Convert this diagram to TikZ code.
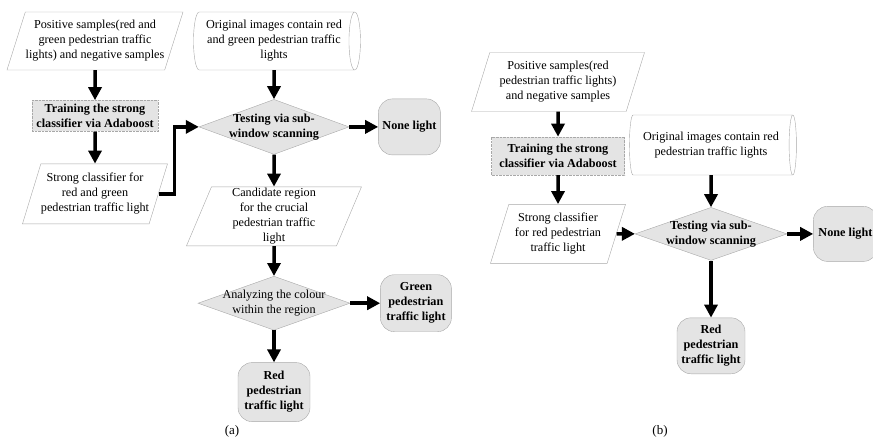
\documentclass[tikz,border=0pt]{standalone}
\usepackage{fontspec}
\setmainfont{Liberation Serif}
\usepackage{tikz}
\usetikzlibrary{
  arrows.meta, shapes.geometric, shapes.misc,
  positioning, calc
}
\usepackage{xcolor}
\definecolor{ink}    {HTML}{000000}
\definecolor{edge}   {HTML}{A8A8A8}
\definecolor{shade}  {HTML}{E4E4E4}
\definecolor{card}   {HTML}{FFFFFF}
\tikzset{
  txt/.style    = {font=\fontsize{12.2}{15}\selectfont, align=center, text=ink},
  bld/.style    = {font=\fontsize{12.2}{15}\selectfont\bfseries, align=center, text=ink},
  para/.style   = {txt, trapezium, trapezium left angle=66, trapezium right angle=114,
                   trapezium stretches body, draw=edge, fill=card,
                   inner xsep=-10pt, inner ysep=0pt},
  drum/.style   = {txt, cylinder, shape aspect=0.28, draw=edge, fill=card,
                   inner xsep=2pt, inner ysep=0pt},
  train/.style  = {bld, rectangle, draw=edge, densely dotted, fill=shade,
                   inner xsep=3pt, inner ysep=1pt},
  decide/.style = {diamond, aspect=2.7, draw=edge, fill=shade,
                   inner xsep=-16pt, inner ysep=-4pt},
  result/.style = {bld, rectangle, rounded corners=14pt, draw=edge, fill=shade,
                   inner xsep=2pt, inner ysep=1pt},
  arr/.style    = {-{Triangle[length=13pt,width=13pt]}, line width=3.5pt, ink},
  caption/.style= {font=\fontsize{13}{15}\selectfont, text=ink},
}

\begin{document}
\begin{tikzpicture}[x=1pt, y=-1pt]
  \useasboundingbox (0,0) rectangle (873,438);

  % --- (a): training column ---
  \node[para, minimum width=176pt, minimum height=58pt] (posa) at (95,41)
        {Positive samples(red and\\green pedestrian traffic\\lights) and negative samples};
  \node[train, minimum width=126pt, minimum height=31pt, below=30pt of posa] (traina)
        {Training the strong\\classifier via Adaboost};
  \node[para, minimum width=145pt, minimum height=60pt, below=32pt of traina] (stronga)
        {Strong classifier for\\red and green\\pedestrian traffic light};

  % --- (a): detection column ---
  % (cylinder: height runs along the axis, width across it)
  \node[drum, minimum height=167pt, minimum width=58pt] (imga) at (274,41)
        {Original images contain red\\and green pedestrian traffic\\lights};
  \node[decide, bld, minimum width=150pt, minimum height=55pt, below=29pt of imga] (testa)
        {Testing via sub-\\window scanning};
  \node[result, minimum width=62pt, minimum height=56pt, right=29pt of testa] (nonea)
        {None light};
  \node[para, minimum width=175pt, minimum height=59pt, below=32pt of testa] (canda)
        {Candidate region\\for the crucial\\pedestrian traffic\\light};
  \node[decide, txt, minimum width=152pt, minimum height=54pt, below=30pt of canda] (colour)
        {Analyzing the colour\\within the region};
  \node[result, minimum width=71pt, minimum height=57pt, right=30pt of colour] (greena)
        {Green\\pedestrian\\traffic light};
  \node[result, minimum width=72pt, minimum height=59pt, below=32pt of colour] (reda)
        {Red\\pedestrian\\traffic light};

  % --- (b): training column ---
  \node[para, minimum width=173pt, minimum height=59pt] (posb) at (558,82)
        {Positive samples(red\\pedestrian traffic lights)\\and negative samples};
  \node[train, minimum width=133pt, minimum height=38pt, below=25pt of posb] (trainb)
        {Training the strong\\classifier via Adaboost};
  \node[para, minimum width=135pt, minimum height=59pt, below=29pt of trainb] (strongb)
        {Strong classifier\\for red pedestrian\\traffic light};

  % --- (b): detection column ---
  \node[drum, minimum height=167pt, minimum width=60pt] (imgb) at (711,145)
        {Original images contain red\\pedestrian traffic lights};
  \node[decide, bld, minimum width=152pt, minimum height=53pt, below=32pt of imgb] (testb)
        {Testing via sub-\\window scanning};
  \node[result, minimum width=64pt, minimum height=55pt, right=26pt of testb] (noneb)
        {None light};
  \node[result, minimum width=68pt, minimum height=56pt, below=57pt of testb] (redb)
        {Red\\pedestrian\\traffic light};

  % --- arrows ---
  \draw[arr] (posa)    -- (traina);
  \draw[arr] (traina)  -- (stronga);
  \draw[arr] (stronga.east) -- ++(16pt,0) |- (testa.west);
  \draw[arr] (imga)    -- (testa);
  \draw[arr] (testa)   -- (nonea);
  \draw[arr] (testa)   -- (canda);
  \draw[arr] (canda)   -- (colour);
  \draw[arr] (colour)  -- (greena);
  \draw[arr] (colour)  -- (reda);

  \draw[arr] (posb)    -- (trainb);
  \draw[arr] (trainb)  -- (strongb);
  \draw[arr] (strongb) -- (testb);
  \draw[arr] (imgb)    -- (testb);
  \draw[arr] (testb)   -- (noneb);
  \draw[arr] (testb)   -- (redb);

  % captions
  \node[caption] (capa) at (232,431) {(a)};
  \node[caption] (capb) at (660,431) {(b)};

\end{tikzpicture}
\end{document}
